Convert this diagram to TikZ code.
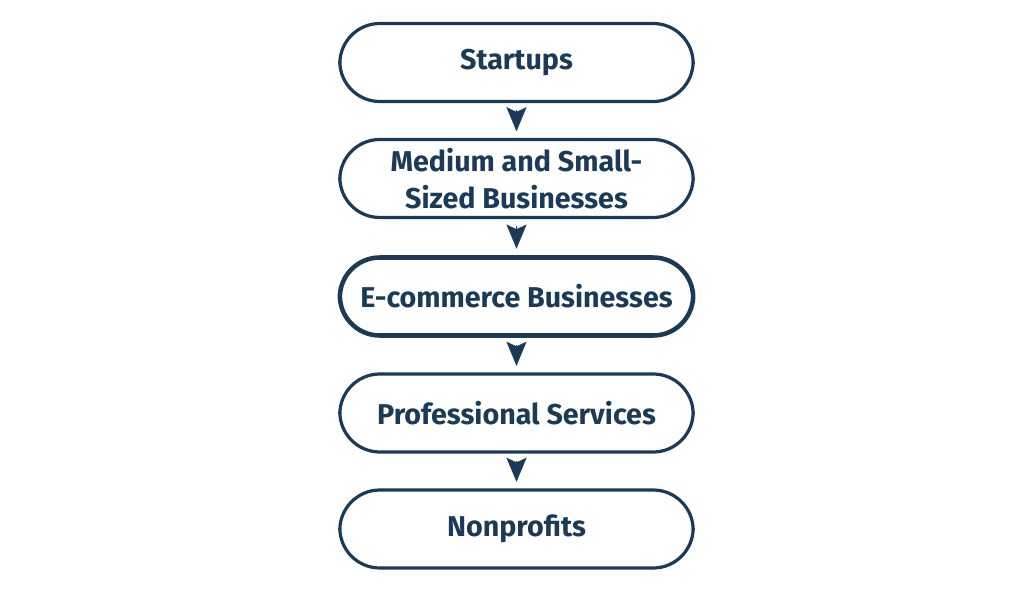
\documentclass[tikz,border=0pt]{standalone}
\usepackage{fontspec}
\setmainfont{Fira Sans}
\usetikzlibrary{arrows.meta}
\definecolor{navy}{HTML}{1A3A58}
\begin{document}
\begin{tikzpicture}[x=0.75pt,y=-0.75pt,
  pill/.style={draw=navy, line width=2.4pt, rounded corners=30pt, minimum width=265pt, minimum height=58.5pt,
    text=navy, font=\fontsize{21.5}{28}\selectfont\bfseries, align=center, inner sep=0pt},
  thick pill/.style={pill, line width=3.4pt},
  flow/.style={draw=navy, fill=navy, line width=0.1pt, -{Stealth[length=18pt,width=15pt,inset=3.5pt]}, shorten <=5.5pt, shorten >=5pt}]
\useasboundingbox (0,0) rectangle (1024,596);
\node[pill] (s) at (516.5,62.5) {Startups};
\node[pill] (m) at (516.5,178.5) {Medium and Small-\\Sized Businesses};
\node[thick pill] (e) at (516.5,296.5) {E-commerce Businesses};
\node[pill] (p) at (516.5,413) {Professional Services};
\node[pill] (n) at (516.5,529) {Nonprofits};
\draw[flow] (s) -- (m);
\draw[flow] (m) -- (e);
\draw[flow] (e) -- (p);
\draw[flow] (p) -- (n);
\end{tikzpicture}
\end{document}
